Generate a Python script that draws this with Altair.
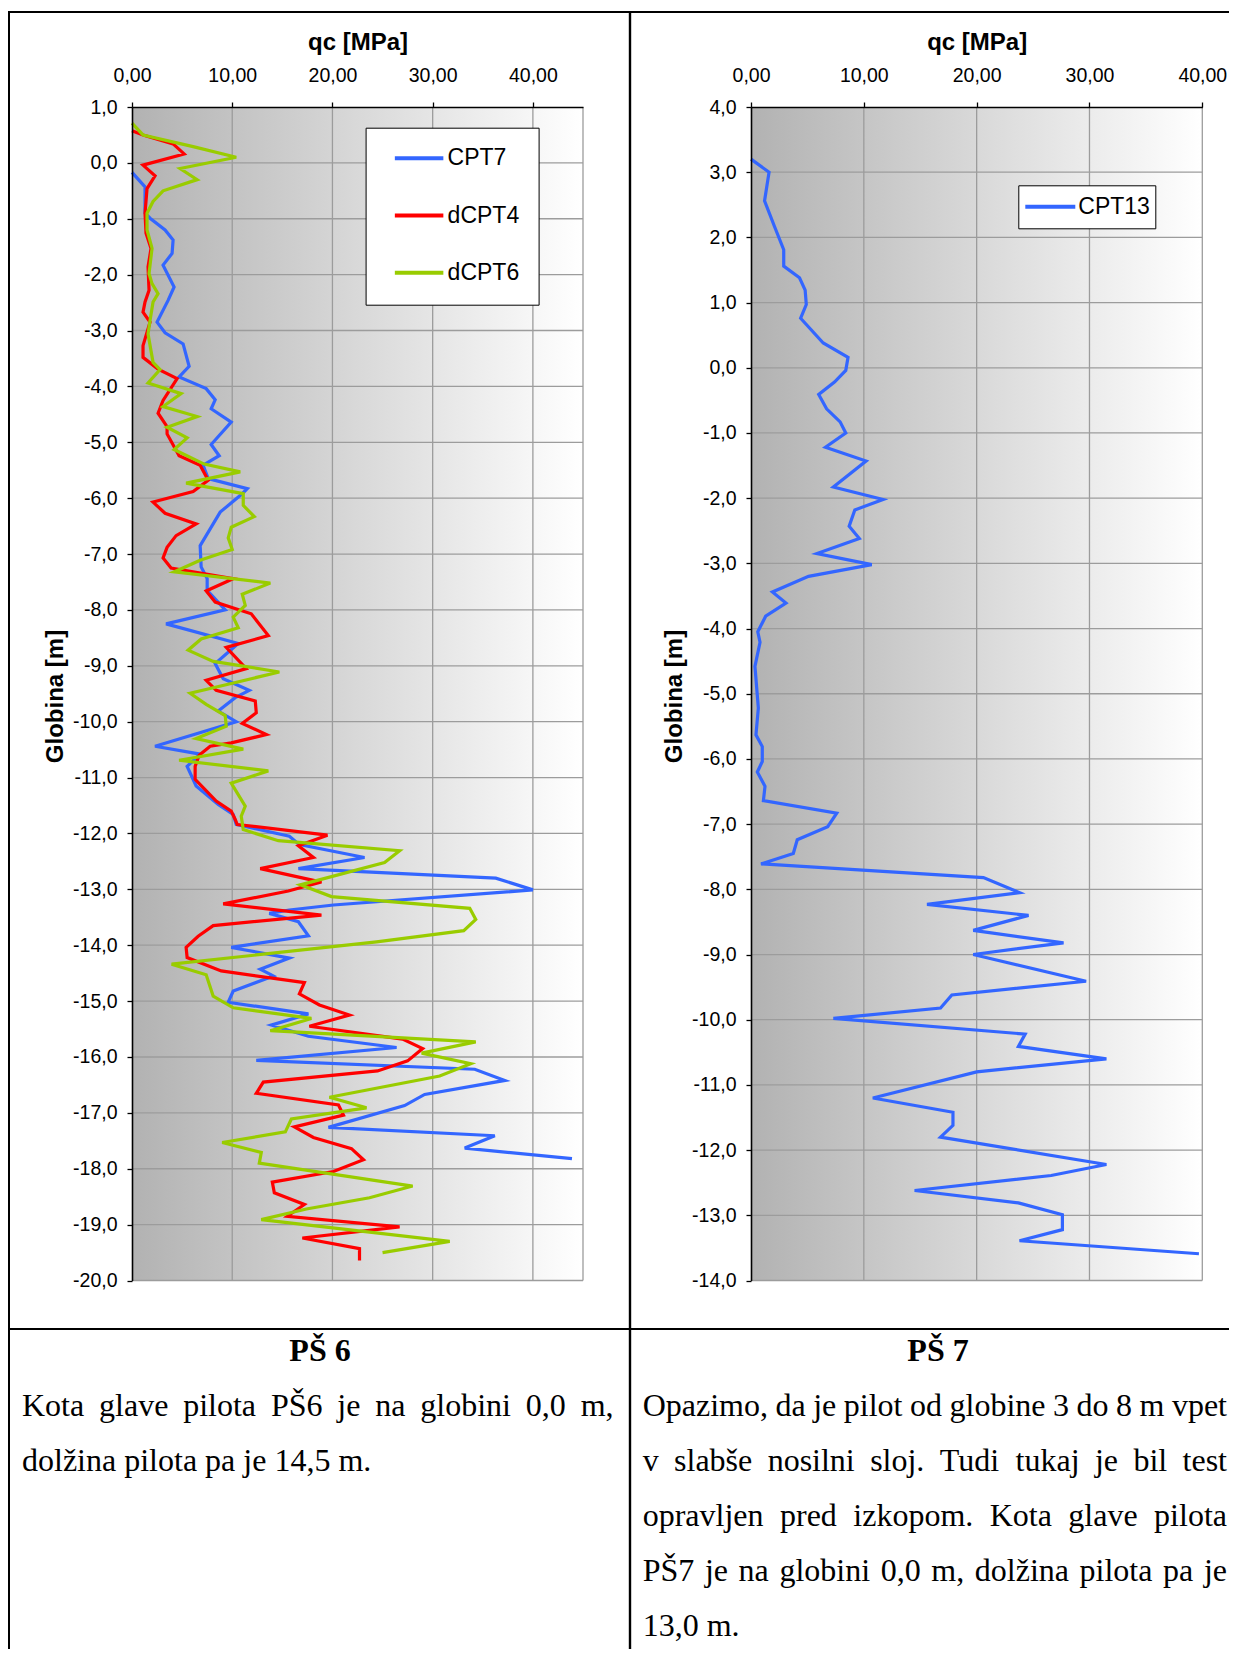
import altair as alt
import pandas as pd

# ---------------- data (depth [m], qc [MPa]) ----------------
cpt7 = [(-0.17,0.0),(-0.43,1.3),(-0.90,1.3),(-0.99,1.8),(-1.20,3.3),(-1.38,4.1),(-1.62,4.0),(-1.83,3.1),
        (-2.22,4.2),(-2.46,3.6),(-2.85,2.5),(-3.04,3.3),(-3.24,5.1),(-3.64,5.7),(-3.83,4.7),(-4.04,7.4),
        (-4.24,8.3),(-4.40,7.9),(-4.64,9.9),(-5.04,7.9),(-5.24,8.7),(-5.41,7.1),(-5.65,7.6),(-5.83,11.5),
        (-5.92,11.0),(-6.25,8.8),(-6.85,6.8),(-7.23,6.9),(-7.44,7.5),(-7.65,7.5),(-8.00,9.3),(-8.25,3.4),
        (-8.60,10.6),(-8.96,8.3),(-9.23,9.1),(-9.44,11.7),(-9.57,10.3),(-9.81,8.6),(-10.00,10.4),(-10.44,2.3),
        (-10.58,6.8),(-10.80,5.5),(-11.15,6.4),(-11.48,8.6),(-11.66,10.1),(-11.84,10.4),(-12.05,15.7),
        (-12.20,16.7),(-12.43,23.2),(-12.63,16.6),(-12.80,36.3),(-13.01,40.0),(-13.28,20.1),(-13.37,15.7),
        (-13.43,13.7),(-13.58,16.6),(-13.83,17.6),(-14.04,9.9),(-14.23,15.7),(-14.43,12.8),(-14.55,14.1),
        (-14.82,10.1),(-15.02,9.6),(-15.23,17.6),(-15.43,13.9),(-15.63,17.6),(-15.83,26.4),(-16.06,12.4),
        (-16.22,34.2),(-16.42,37.2),(-16.67,29.2),(-16.87,27.2),(-17.26,19.6),(-17.41,36.2),(-17.63,33.2),
        (-17.82,43.9)]

dcpt4 = [(0.575,0.0),(0.50,1.1),(0.34,4.1),(0.16,5.2),(-0.04,1.1),(-0.23,2.3),(-0.46,1.5),(-0.90,1.3),
         (-1.26,1.4),(-1.53,1.9),(-1.86,1.6),(-2.28,1.7),(-2.49,1.3),(-2.67,1.1),(-2.85,1.8),(-3.27,1.1),
         (-3.48,1.1),(-3.69,2.6),(-3.86,4.5),(-4.25,3.1),(-4.48,2.6),(-4.72,3.5),(-4.85,3.5),(-5.24,4.7),
         (-5.41,6.8),(-5.68,7.6),(-5.88,6.1),(-6.07,2.1),(-6.27,3.3),(-6.46,6.4),(-6.67,4.4),(-6.88,3.5),
         (-7.07,3.1),(-7.25,3.9),(-7.44,10.1),(-7.66,7.4),(-7.86,8.3),(-8.07,11.9),(-8.46,13.6),(-8.67,9.4),
         (-9.05,11.4),(-9.26,7.4),(-9.44,8.4),(-9.63,12.3),(-9.84,12.4),(-10.03,11.0),(-10.23,13.4),
         (-10.38,9.9),(-10.44,7.8),(-10.60,6.7),(-10.80,6.3),(-11.03,6.3),(-11.42,8.4),(-11.60,9.9),
         (-11.75,10.3),(-11.84,10.5),(-12.03,19.5),(-12.22,16.6),(-12.43,18.1),(-12.63,12.8),(-12.87,18.9),
         (-13.03,15.6),(-13.26,9.1),(-13.46,18.9),(-13.65,8.1),(-13.84,6.6),(-14.04,5.4),(-14.22,5.5),
         (-14.46,8.9),(-14.67,17.2),(-14.87,16.7),(-15.07,18.7),(-15.25,21.7),(-15.45,17.7),(-15.68,27.0),
         (-15.85,29.0),(-16.07,27.5),(-16.25,24.5),(-16.45,13.1),(-16.65,12.4),(-16.86,20.6),(-17.04,21.1),
         (-17.25,16.2),(-17.44,18.1),(-17.64,21.9),(-17.84,23.1),(-18.05,20.1),(-18.24,14.0),(-18.43,14.2),
         (-18.64,17.2),(-18.85,15.5),(-19.04,26.7),(-19.24,17.0),(-19.43,22.7),(-19.64,22.7)]

dcpt6 = [(0.71,0.0),(0.50,1.1),(0.29,6.1),(0.10,10.4),(-0.10,4.8),(-0.30,6.5),(-0.50,3.1),(-0.69,2.1),
         (-0.90,1.5),(-1.20,1.5),(-1.53,2.0),(-1.98,1.7),(-2.16,2.0),(-2.34,2.6),(-2.49,2.1),(-2.82,1.8),
         (-3.06,1.6),(-3.57,2.1),(-3.70,2.8),(-3.94,1.6),(-4.13,4.9),(-4.36,3.1),(-4.54,6.5),(-4.73,3.5),
         (-4.92,5.5),(-5.13,4.2),(-5.39,7.2),(-5.53,10.8),(-5.73,5.4),(-5.92,11.1),(-6.13,11.1),(-6.33,12.2),
         (-6.52,9.9),(-6.71,9.6),(-6.92,10.0),(-7.11,6.8),(-7.32,4.2),(-7.52,13.8),(-7.72,11.0),(-7.92,11.3),
         (-8.13,10.1),(-8.32,10.6),(-8.52,6.9),(-8.72,5.6),(-8.92,8.1),(-9.11,14.7),(-9.32,9.8),(-9.49,5.8),
         (-9.69,7.4),(-9.89,9.3),(-10.08,9.4),(-10.30,6.4),(-10.49,11.1),(-10.69,4.7),(-10.88,13.6),
         (-11.10,9.9),(-11.51,11.3),(-11.69,10.9),(-11.93,11.1),(-12.13,14.6),(-12.31,26.7),(-12.52,25.2),
         (-12.92,16.8),(-13.13,19.9),(-13.34,33.7),(-13.54,34.3),(-13.74,33.1),(-13.94,24.4),(-14.34,3.95),
         (-14.53,7.4),(-14.91,8.1),(-15.12,10.1),(-15.31,17.9),(-15.53,13.8),(-15.73,34.3),(-15.93,28.9),
         (-16.12,33.8),(-16.34,30.7),(-16.72,19.7),(-16.91,23.4),(-17.11,15.9),(-17.34,15.3),(-17.53,9.0),
         (-17.71,12.9),(-17.90,12.7),(-18.31,28.0),(-18.52,23.7),(-18.72,17.4),(-18.91,12.9),(-19.30,31.7),
         (-19.50,25.0)]

cpt13 = [(3.20,0.0),(3.00,1.6),(2.56,1.2),(2.16,2.1),(1.81,2.9),(1.56,2.9),(1.38,4.3),(1.19,4.8),
         (0.97,4.9),(0.76,4.4),(0.38,6.4),(0.16,8.6),(-0.04,8.4),(-0.22,7.4),(-0.41,6.0),(-0.63,6.7),
         (-0.83,7.9),(-1.00,8.4),(-1.22,6.6),(-1.43,10.2),(-1.83,7.3),(-2.02,11.7),(-2.18,9.2),(-2.43,8.7),
         (-2.62,9.6),(-2.85,5.85),(-3.02,10.7),(-3.20,5.1),(-3.44,1.9),(-3.61,3.1),(-3.81,1.3),(-4.05,0.6),
         (-4.21,0.8),(-4.58,0.35),(-5.22,0.65),(-5.63,0.44),(-5.81,1.0),(-6.04,1.0),(-6.20,0.56),
         (-6.42,1.24),(-6.64,1.1),(-6.83,7.6),(-7.04,6.8),(-7.24,4.1),(-7.45,3.75),(-7.61,0.89),(-7.82,20.6),
         (-8.05,23.8),(-8.23,15.6),(-8.40,24.6),(-8.63,19.7),(-8.82,27.7),(-9.00,19.7),(-9.41,29.7),
         (-9.62,17.8),(-9.82,16.8),(-9.98,7.3),(-10.22,24.3),(-10.41,23.7),(-10.60,31.5),(-10.80,20.0),
         (-11.20,10.8),(-11.42,17.9),(-11.62,17.9),(-11.80,16.8),(-12.22,31.5),(-12.39,26.6),(-12.62,14.5),
         (-12.81,23.7),(-12.99,27.6),(-13.22,27.6),(-13.39,23.8),(-13.59,39.7)]

left_series = ["CPT7", "dCPT4", "dCPT6"]
left_colors = ["#3366ff", "#ff0000", "#99cc00"]
right_series = ["CPT13"]
right_colors = ["#3366ff"]

x_ticks = [0, 10, 20, 30, 40]
left_x_domain = [0, 45]
left_y_domain = [-20, 1]
right_x_domain = [0, 40]
right_y_domain = [-14, 4]
left_y_ticks = list(range(-20, 2))
right_y_ticks = list(range(-14, 5))
left_vgrid = [10, 20, 30, 40, 45]
right_vgrid = [10, 20, 30, 40]
left_hgrid = list(range(-20, 1))
right_hgrid = list(range(-14, 4))

x_title = "qc [MPa]"
y_title = "Globina [m]"
cell_titles = ["PŠ 6", "PŠ 7"]
left_text = ["Kota glave pilota PŠ6 je na globini 0,0 m,",
             "dolžina pilota pa je 14,5 m."]
right_text = ["Opazimo, da je pilot od globine 3 do 8 m vpet",
              "v slabše nosilni sloj. Tudi tukaj je bil test",
              "opravljen pred izkopom. Kota glave pilota",
              "PŠ7 je na globini 0,0 m, dolžina pilota pa je",
              "13,0 m."]

# ---------------- layout / style ----------------
W, H = 1221, 1641
SANS = "Liberation Sans"
SERIF = "Liberation Serif"
Y_RNG = [1272.5, 99]
L_X_RNG = [124, 575]
R_X_RNG = [743, 1194.3]
GRID = "#9c9c9c"
GRAD = {"gradient": "linear", "x1": 0, "x2": 1, "y1": 0, "y2": 0,
        "stops": [{"offset": 0, "color": "#b2b2b2"}, {"offset": 1, "color": "#ffffff"}]}


def lab(fmt):
    return ("replace(replace(format(datum.value, '" + fmt + "'), '.', ','), '\u2212', '-')")


def series_df(names, tables):
    rows = []
    for name, tab in zip(names, tables):
        for i, (d, q) in enumerate(tab):
            rows.append({"series": name, "depth": d, "qc": q, "i": i})
    return pd.DataFrame(rows)


def panel(df, xdom, xrng, ydom, yticks, vgrid, hgrid, cdom, crng, ytitle_x, legend):
    xs = alt.Scale(domain=xdom, range=xrng, nice=False, zero=False)
    ys = alt.Scale(domain=ydom, range=Y_RNG, nice=False, zero=False)
    bg = alt.Chart(pd.DataFrame({"x0": [xdom[0]], "x1": [xdom[1]], "y0": [ydom[0]], "y1": [ydom[1]]})) \
        .mark_rect(fill=GRAD).encode(
            x=alt.X("x0:Q", scale=xs, axis=None), x2=alt.X2("x1"),
            y=alt.Y("y0:Q", scale=ys, axis=None), y2=alt.Y2("y1"))
    vg = alt.Chart(pd.DataFrame({"gx": vgrid, "g0": ydom[0], "g1": ydom[1]})) \
        .mark_rule(color=GRID, strokeWidth=1.3).encode(
            x=alt.X("gx:Q", scale=xs, axis=None),
            y=alt.Y("g0:Q", scale=ys, axis=None), y2=alt.Y2("g1"))
    hg = alt.Chart(pd.DataFrame({"gy": hgrid, "g0": xdom[0], "g1": xdom[1]})) \
        .mark_rule(color=GRID, strokeWidth=1.3).encode(
            y=alt.Y("gy:Q", scale=ys, axis=None),
            x=alt.X("g0:Q", scale=xs, axis=None), x2=alt.X2("g1"))
    xaxis = alt.Axis(orient="top", offset=-99, values=x_ticks, labelExpr=lab(".2f"),
                     title=x_title, titleFont=SANS, titleFontSize=24, titleFontWeight="bold",
                     titleColor="black", titleX=(xrng[0] + xrng[1]) / 2, titleY=-58,
                     titleBaseline="alphabetic", titleAlign="center", titleAngle=0,
                     labelFont=SANS, labelFontSize=19.5, labelColor="black", labelPadding=17,
                     labelFlush=False, labelOverlap=False, tickSize=5, tickColor="black",
                     tickWidth=1.3, domainColor="black", domainWidth=1.6, grid=False, zindex=2)
    yaxis = alt.Axis(orient="left", offset=-xrng[0], values=yticks, labelExpr=lab(".1f"),
                     title=y_title, titleFont=SANS, titleFontSize=24, titleFontWeight="bold",
                     titleColor="black", titleX=ytitle_x, titleY=688, titleAngle=270,
                     titleBaseline="alphabetic", titleAlign="center",
                     labelFont=SANS, labelFontSize=19.5, labelColor="black", labelPadding=10,
                     labelFlush=False, labelOverlap=False, tickSize=5, tickColor="black",
                     tickWidth=1.3, domainColor="black", domainWidth=1.6, grid=False, zindex=2)
    lines = alt.Chart(df).mark_line(strokeWidth=3.2).encode(
        x=alt.X("qc:Q", scale=xs, axis=xaxis),
        y=alt.Y("depth:Q", scale=ys, axis=yaxis),
        color=alt.Color("series:N", scale=alt.Scale(domain=cdom, range=crng), legend=legend, title=None),
        order=alt.Order("i:Q"))
    return [bg, vg, hg, lines]


left_legend = alt.Legend(orient="none", legendX=357.6, legendY=119.7, symbolType="stroke",
                         symbolSize=2352, symbolStrokeWidth=4, symbolOffset=8, labelOffset=2,
                         labelFont=SANS, labelFontSize=23, labelColor="black", padding=19,
                         rowPadding=33.3, clipHeight=23, strokeColor="black", fillColor="white")
right_legend = alt.Legend(orient="none", legendX=1010.3, legendY=177.3, symbolType="stroke",
                          symbolSize=2500, symbolStrokeWidth=4, symbolOffset=0, labelOffset=1,
                          labelFont=SANS, labelFontSize=23, labelColor="black", padding=5,
                          clipHeight=33, strokeColor="black", fillColor="white")

left_layers = panel(series_df(left_series, [cpt7, dcpt4, dcpt6]), left_x_domain, L_X_RNG, left_y_domain,
                    left_y_ticks, left_vgrid, left_hgrid, left_series, left_colors, -70, left_legend)
right_layers = panel(series_df(right_series, [cpt13]), right_x_domain, R_X_RNG, right_y_domain,
                     right_y_ticks, right_vgrid, right_hgrid, right_series, right_colors, -70, right_legend)

# ---------------- table frame ----------------
one = pd.DataFrame({"k": [0]})
frame = [
    alt.Chart(one).mark_rule(color="black", strokeWidth=2).encode(x=alt.value(0), x2=alt.value(W), y=alt.value(4)),
    alt.Chart(one).mark_rule(color="black", strokeWidth=2).encode(x=alt.value(1), y=alt.value(3), y2=alt.value(H)),
    alt.Chart(one).mark_rule(color="black", strokeWidth=2.4).encode(x=alt.value(622), y=alt.value(3), y2=alt.value(H)),
    alt.Chart(one).mark_rule(color="black", strokeWidth=2).encode(x=alt.value(0), x2=alt.value(W), y=alt.value(1321)),
]

# ---------------- justified paragraph layout (Times metrics) ----------------
TW = {" ": 250, ",": 250, ".": 250, "K": 722, "O": 722, "P": 556, "T": 611, "Š": 556,
      "a": 444, "b": 500, "c": 444, "d": 500, "e": 444, "f": 333, "g": 500, "h": 500, "i": 278,
      "j": 278, "k": 500, "l": 278, "m": 778, "n": 500, "o": 500, "p": 500, "r": 333, "s": 389,
      "t": 278, "u": 500, "v": 500, "z": 444, "ž": 444, "š": 389}
FS = 32


def tw(s):
    return sum(TW.get(c, 500) for c in s) * FS / 1000


def layout(lines, x0, x1, y0, step):
    out = []
    for k, line in enumerate(lines):
        words = line.split(" ")
        last = k == len(lines) - 1
        gap = tw(" ") if last or len(words) < 2 else (x1 - x0 - sum(tw(w) for w in words)) / (len(words) - 1)
        x = x0
        for w in words:
            out.append({"word": w, "px": x, "py": y0 + k * step})
            x += tw(w) + gap
    return out


words = pd.DataFrame(layout(left_text, 14, 605.6, 1408, 55) + layout(right_text, 634.7, 1219, 1408, 55))
body = alt.Chart(words).mark_text(align="left", baseline="alphabetic", font=SERIF, fontSize=FS,
                                  color="black").encode(
    x=alt.X("px:Q", scale=None), y=alt.Y("py:Q", scale=None), text=alt.Text("word:N"))

heads = alt.Chart(pd.DataFrame({"t": cell_titles, "px": [312, 930], "py": [1353, 1353]})).mark_text(
    align="center", baseline="alphabetic", font=SERIF, fontSize=32, fontWeight="bold", color="black").encode(
    x=alt.X("px:Q", scale=None), y=alt.Y("py:Q", scale=None), text=alt.Text("t:N"))

chart = alt.layer(*left_layers, *right_layers, *frame, heads, body).resolve_scale(
    x="independent", y="independent", color="independent").resolve_axis(
    x="independent", y="independent").properties(
    width=W, height=H, autosize=alt.AutoSizeParams(type="none"), padding=0).configure_view(
    stroke="transparent")

chart.save("out.html", embed_options={"renderer": "svg", "actions": False})
